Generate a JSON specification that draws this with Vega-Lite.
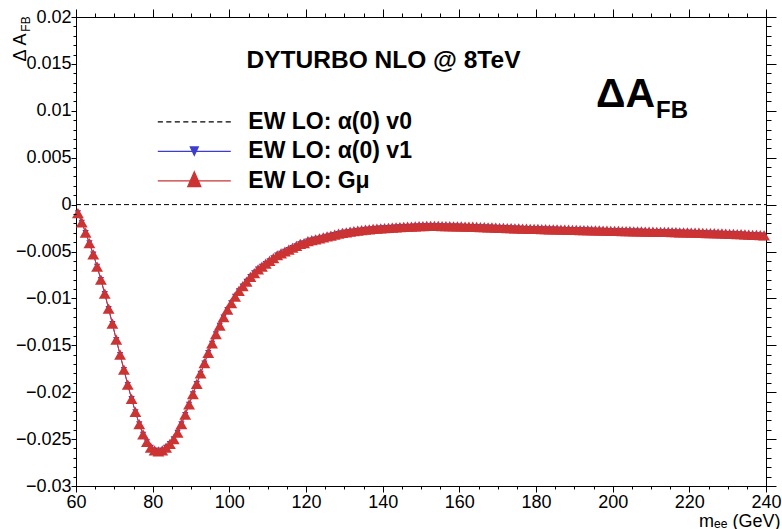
{
  "$schema": "https://vega.github.io/schema/vega-lite/v6.json",
  "width": 690,
  "height": 469,
  "autosize": {"type": "none"},
  "padding": {"left": 76, "top": 17, "right": 16, "bottom": 43},
  "background": "white",
  "config": {
    "view": {"stroke": "black", "strokeWidth": 1},
    "text": {"font": "Liberation Sans"}
  },
  "datasets": {
    "v0": [{"m": 60, "d": 0}, {"m": 240, "d": 0}],
    "series": [{"s": "EW LO: α(0) v0"}, {"s": "EW LO: α(0) v1"}, {"s": "EW LO: Gμ"}],
    "afb": [
      {"m": 60.5, "d": -0.0009}, {"m": 61.5, "d": -0.0019}, {"m": 62.5, "d": -0.0030}, {"m": 63.5, "d": -0.0041},
      {"m": 64.5, "d": -0.0053}, {"m": 65.5, "d": -0.0066}, {"m": 66.5, "d": -0.0080}, {"m": 67.5, "d": -0.0095},
      {"m": 68.5, "d": -0.0111}, {"m": 69.5, "d": -0.0127}, {"m": 70.5, "d": -0.0144}, {"m": 71.5, "d": -0.0160},
      {"m": 72.5, "d": -0.0176}, {"m": 73.5, "d": -0.0192}, {"m": 74.5, "d": -0.0207}, {"m": 75.5, "d": -0.0221},
      {"m": 76.5, "d": -0.0234}, {"m": 77.5, "d": -0.0245}, {"m": 78.5, "d": -0.0253}, {"m": 79.5, "d": -0.0259},
      {"m": 80.5, "d": -0.0262}, {"m": 81.5, "d": -0.0263}, {"m": 82.5, "d": -0.0262}, {"m": 83.5, "d": -0.0259},
      {"m": 84.5, "d": -0.0255}, {"m": 85.5, "d": -0.0250}, {"m": 86.5, "d": -0.0243}, {"m": 87.5, "d": -0.0234},
      {"m": 88.5, "d": -0.0224}, {"m": 89.5, "d": -0.0213}, {"m": 90.5, "d": -0.0202}, {"m": 91.5, "d": -0.0191},
      {"m": 92.5, "d": -0.0180}, {"m": 93.5, "d": -0.0169}, {"m": 94.5, "d": -0.0158}, {"m": 95.5, "d": -0.0148},
      {"m": 96.5, "d": -0.0138}, {"m": 97.5, "d": -0.0129}, {"m": 98.5, "d": -0.0120}, {"m": 99.5, "d": -0.0112},
      {"m": 100.5, "d": -0.0105}, {"m": 101.5, "d": -0.0098}, {"m": 102.5, "d": -0.0092}, {"m": 103.5, "d": -0.0087},
      {"m": 104.5, "d": -0.0082}, {"m": 105.5, "d": -0.0077}, {"m": 106.5, "d": -0.0073}, {"m": 107.5, "d": -0.0069},
      {"m": 108.5, "d": -0.0066}, {"m": 109.5, "d": -0.0063}, {"m": 110.5, "d": -0.0060}, {"m": 111.5, "d": -0.0057},
      {"m": 112.5, "d": -0.0054}, {"m": 113.5, "d": -0.0052}, {"m": 114.5, "d": -0.0050}, {"m": 115.5, "d": -0.0048},
      {"m": 116.5, "d": -0.0046}, {"m": 117.5, "d": -0.0044}, {"m": 118.5, "d": -0.0042}, {"m": 119.5, "d": -0.0041},
      {"m": 120.5, "d": -0.0039}, {"m": 121.5, "d": -0.0038}, {"m": 122.5, "d": -0.0037}, {"m": 123.5, "d": -0.0036},
      {"m": 124.5, "d": -0.0035}, {"m": 125.5, "d": -0.0034}, {"m": 126.5, "d": -0.0033}, {"m": 127.5, "d": -0.0032},
      {"m": 128.5, "d": -0.0031}, {"m": 129.5, "d": -0.00302}, {"m": 130.5, "d": -0.00295}, {"m": 131.5, "d": -0.00289},
      {"m": 132.5, "d": -0.00283}, {"m": 133.5, "d": -0.00278}, {"m": 134.5, "d": -0.00273}, {"m": 135.5, "d": -0.00268},
      {"m": 136.5, "d": -0.00264}, {"m": 137.5, "d": -0.0026}, {"m": 138.5, "d": -0.00256}, {"m": 139.5, "d": -0.00253},
      {"m": 140.5, "d": -0.0025}, {"m": 141.5, "d": -0.00247}, {"m": 142.5, "d": -0.00245}, {"m": 143.5, "d": -0.00242},
      {"m": 144.5, "d": -0.0024}, {"m": 145.5, "d": -0.00238}, {"m": 146.5, "d": -0.00236}, {"m": 147.5, "d": -0.00234},
      {"m": 148.5, "d": -0.00232}, {"m": 149.5, "d": -0.0023}, {"m": 150.5, "d": -0.00229}, {"m": 151.5, "d": -0.00228},
      {"m": 152.5, "d": -0.00228}, {"m": 153.5, "d": -0.00228}, {"m": 154.5, "d": -0.00228}, {"m": 155.5, "d": -0.00229},
      {"m": 156.5, "d": -0.0023}, {"m": 157.5, "d": -0.0023}, {"m": 158.5, "d": -0.00231}, {"m": 159.5, "d": -0.00232},
      {"m": 160.5, "d": -0.00233}, {"m": 161.5, "d": -0.00234}, {"m": 162.5, "d": -0.00235}, {"m": 163.5, "d": -0.00236},
      {"m": 164.5, "d": -0.00238}, {"m": 165.5, "d": -0.00239}, {"m": 166.5, "d": -0.00241}, {"m": 167.5, "d": -0.00242},
      {"m": 168.5, "d": -0.00244}, {"m": 169.5, "d": -0.00245}, {"m": 170.5, "d": -0.00247}, {"m": 171.5, "d": -0.00248},
      {"m": 172.5, "d": -0.0025}, {"m": 173.5, "d": -0.00251}, {"m": 174.5, "d": -0.00253}, {"m": 175.5, "d": -0.00254},
      {"m": 176.5, "d": -0.00255}, {"m": 177.5, "d": -0.00257}, {"m": 178.5, "d": -0.00258}, {"m": 179.5, "d": -0.00259},
      {"m": 180.5, "d": -0.0026}, {"m": 181.5, "d": -0.00261}, {"m": 182.5, "d": -0.00262}, {"m": 183.5, "d": -0.00263},
      {"m": 184.5, "d": -0.00264}, {"m": 185.5, "d": -0.00265}, {"m": 186.5, "d": -0.00266}, {"m": 187.5, "d": -0.00267},
      {"m": 188.5, "d": -0.00268}, {"m": 189.5, "d": -0.00269}, {"m": 190.5, "d": -0.0027}, {"m": 191.5, "d": -0.00271},
      {"m": 192.5, "d": -0.00272}, {"m": 193.5, "d": -0.00273}, {"m": 194.5, "d": -0.00274}, {"m": 195.5, "d": -0.00275},
      {"m": 196.5, "d": -0.00276}, {"m": 197.5, "d": -0.00277}, {"m": 198.5, "d": -0.00278}, {"m": 199.5, "d": -0.00279},
      {"m": 200.5, "d": -0.0028}, {"m": 201.5, "d": -0.00281}, {"m": 202.5, "d": -0.00282}, {"m": 203.5, "d": -0.00283},
      {"m": 204.5, "d": -0.00284}, {"m": 205.5, "d": -0.00285}, {"m": 206.5, "d": -0.00285}, {"m": 207.5, "d": -0.00286},
      {"m": 208.5, "d": -0.00287}, {"m": 209.5, "d": -0.00288}, {"m": 210.5, "d": -0.00289}, {"m": 211.5, "d": -0.0029},
      {"m": 212.5, "d": -0.0029}, {"m": 213.5, "d": -0.00291}, {"m": 214.5, "d": -0.00292}, {"m": 215.5, "d": -0.00293},
      {"m": 216.5, "d": -0.00294}, {"m": 217.5, "d": -0.00295}, {"m": 218.5, "d": -0.00296}, {"m": 219.5, "d": -0.00297},
      {"m": 220.5, "d": -0.00298}, {"m": 221.5, "d": -0.00299}, {"m": 222.5, "d": -0.003}, {"m": 223.5, "d": -0.00301},
      {"m": 224.5, "d": -0.00303}, {"m": 225.5, "d": -0.00304}, {"m": 226.5, "d": -0.00305}, {"m": 227.5, "d": -0.00307},
      {"m": 228.5, "d": -0.00308}, {"m": 229.5, "d": -0.0031}, {"m": 230.5, "d": -0.00311}, {"m": 231.5, "d": -0.00313},
      {"m": 232.5, "d": -0.00314}, {"m": 233.5, "d": -0.00316}, {"m": 234.5, "d": -0.00318}, {"m": 235.5, "d": -0.0032},
      {"m": 236.5, "d": -0.00322}, {"m": 237.5, "d": -0.00324}, {"m": 238.5, "d": -0.00326}, {"m": 239.5, "d": -0.00328}
    ]
  },
  "layer": [
    {
      "data": {"name": "v0"},
      "mark": {"type": "line", "color": "black", "strokeWidth": 1, "strokeDash": [5, 3]},
      "encoding": {
        "x": {"field": "m", "type": "quantitative", "scale": {"domain": [60, 240], "nice": false, "zero": false}, "axis": null},
        "y": {"field": "d", "type": "quantitative", "scale": {"domain": [-0.03, 0.02], "nice": false, "zero": false}, "axis": null}
      }
    },
    {
      "data": {"name": "afb"},
      "mark": {"type": "line", "color": "#3c3cd0", "strokeWidth": 1},
      "encoding": {
        "x": {"field": "m", "type": "quantitative", "axis": {"orient": "top", "values": [60,65,70,75,80,85,90,95,100,105,110,115,120,125,130,135,140,145,150,155,160,165,170,175,180,185,190,195,200,205,210,215,220,225,230,235,240], "labels": false, "title": null, "domain": false, "grid": false, "ticks": true, "tickColor": "black", "tickSize": 4, "zindex": 1}},
        "y": {"field": "d", "type": "quantitative", "axis": {"orient": "right", "values": [-0.03,-0.029,-0.028,-0.027,-0.026,-0.025,-0.024,-0.023,-0.022,-0.021,-0.02,-0.019,-0.018,-0.017,-0.016,-0.015,-0.014,-0.013,-0.012,-0.011,-0.01,-0.009,-0.008,-0.007,-0.006,-0.005,-0.004,-0.003,-0.002,-0.001,0,0.001,0.002,0.003,0.004,0.005,0.006,0.007,0.008,0.009,0.01,0.011,0.012,0.013,0.014,0.015,0.016,0.017,0.018,0.019,0.02], "labels": false, "title": null, "domain": false, "grid": false, "ticks": true, "tickColor": "black", "tickSize": 5, "zindex": 1}}
      }
    },
    {
      "data": {"name": "afb"},
      "mark": {"type": "point", "shape": "triangle-down", "filled": true, "size": 40, "color": "#3c3cd0", "opacity": 1},
      "encoding": {
        "x": {"field": "m", "type": "quantitative", "axis": {"orient": "top", "values": [60,80,100,120,140,160,180,200,220,240], "labels": false, "title": null, "domain": false, "grid": false, "ticks": true, "tickColor": "black", "tickSize": 8, "zindex": 1}},
        "y": {"field": "d", "type": "quantitative", "axis": {"orient": "right", "values": [-0.03,-0.025,-0.02,-0.015,-0.01,-0.005,0,0.005,0.01,0.015,0.02], "labels": false, "title": null, "domain": false, "grid": false, "ticks": true, "tickColor": "black", "tickSize": 10, "zindex": 1}}
      }
    },
    {
      "data": {"name": "afb"},
      "mark": {"type": "line", "color": "#cc3333", "strokeWidth": 1},
      "encoding": {
        "x": {"field": "m", "type": "quantitative", "axis": {"orient": "bottom", "values": [60,65,70,75,80,85,90,95,100,105,110,115,120,125,130,135,140,145,150,155,160,165,170,175,180,185,190,195,200,205,210,215,220,225,230,235,240], "labels": false, "title": null, "domain": false, "grid": false, "ticks": true, "tickColor": "black", "tickSize": 3, "zindex": 1}},
        "y": {"field": "d", "type": "quantitative", "axis": {"orient": "left", "values": [-0.03,-0.029,-0.028,-0.027,-0.026,-0.025,-0.024,-0.023,-0.022,-0.021,-0.02,-0.019,-0.018,-0.017,-0.016,-0.015,-0.014,-0.013,-0.012,-0.011,-0.01,-0.009,-0.008,-0.007,-0.006,-0.005,-0.004,-0.003,-0.002,-0.001,0,0.001,0.002,0.003,0.004,0.005,0.006,0.007,0.008,0.009,0.01,0.011,0.012,0.013,0.014,0.015,0.016,0.017,0.018,0.019,0.02], "labels": false, "title": null, "domain": false, "grid": false, "ticks": true, "tickColor": "black", "tickSize": 3, "zindex": 1}}
      }
    },
    {
      "data": {"name": "afb"},
      "mark": {"type": "point", "shape": "triangle-up", "filled": true, "size": 140, "color": "#cc3333", "opacity": 1},
      "encoding": {
        "x": {"field": "m", "type": "quantitative", "axis": {"orient": "bottom", "values": [60,80,100,120,140,160,180,200,220,240], "format": "d", "domain": false, "grid": false, "ticks": true, "tickColor": "black", "tickSize": 6, "zindex": 1, "labelPadding": 1, "labelFontSize": 18, "labelColor": "black", "labelFont": "Liberation Sans", "labelFlush": false, "labelOverlap": false, "title": "mₑₑ (GeV)", "titleFont": "Liberation Sans", "titleColor": "black", "titleFontSize": 18, "titleFontWeight": "normal", "titleAlign": "right", "titleBaseline": "alphabetic", "titleX": 704, "titleY": 40}},
        "y": {"field": "d", "type": "quantitative", "axis": {"orient": "left", "values": [-0.03,-0.025,-0.02,-0.015,-0.01,-0.005,0,0.005,0.01,0.015,0.02], "format": ".3~f", "domain": false, "grid": false, "ticks": true, "tickColor": "black", "tickSize": 5, "zindex": 1, "labelPadding": 0, "labelFontSize": 18, "labelColor": "black", "labelFont": "Liberation Sans", "labelFlush": false, "labelOverlap": false, "title": "Δ A", "titleFont": "Liberation Sans", "titleColor": "black", "titleFontSize": 18, "titleFontWeight": "normal", "titleAngle": 270, "titleAlign": "right", "titleBaseline": "alphabetic", "titleX": -51, "titleY": 16}}
      }
    },
    {
      "data": {"name": "series"},
      "transform": [{"filter": "false"}],
      "mark": {"type": "point", "filled": true, "opacity": 1},
      "encoding": {
        "shape": {"field": "s", "type": "nominal", "scale": {"domain": ["EW LO: α(0) v0", "EW LO: α(0) v1", "EW LO: Gμ"], "range": ["M-3,0H-2.58M-2.3025,0H-1.8825M-1.605,0H-1.185M-0.9075,0H-0.4875M-0.21,0H0.21M0.4875,0H0.9075M1.185,0H1.605M1.8825,0H2.3025M2.58,0H3", "M-3,0H3M-0.33,-0.36L0.33,-0.36L0,0.33Z", "M-3,0H3M0,-0.75L0.54,0.48L-0.54,0.48Z"]}, "legend": {"title": null, "orient": "none", "legendX": 105.3, "legendY": 91.8, "symbolSize": 592, "symbolStrokeWidth": 1.2, "labelFont": "Liberation Sans", "labelFontSize": 23, "labelFontWeight": "bold", "labelColor": "black", "labelOffset": 41, "labelLimit": 400, "rowPadding": 4.5, "padding": 0}},
        "fill": {"field": "s", "type": "nominal", "scale": {"domain": ["EW LO: α(0) v0", "EW LO: α(0) v1", "EW LO: Gμ"], "range": ["black", "#3c3cd0", "#cc3333"]}},
        "stroke": {"field": "s", "type": "nominal", "scale": {"domain": ["EW LO: α(0) v0", "EW LO: α(0) v1", "EW LO: Gμ"], "range": ["black", "#3c3cd0", "#cc3333"]}}
      }
    },
    {
      "data": {"values": [{"t": "DYTURBO NLO @ 8TeV"}]},
      "mark": {"type": "text", "align": "left", "baseline": "alphabetic", "fontSize": 24.5, "fontWeight": "bold", "color": "black"},
      "encoding": {
        "x": {"datum": 104.5, "type": "quantitative", "axis": null},
        "y": {"datum": 0.01457, "type": "quantitative", "axis": null},
        "text": {"field": "t"}
      }
    },
    {
      "data": {"values": [{"t": "ΔA"}]},
      "mark": {"type": "text", "align": "left", "baseline": "alphabetic", "fontSize": 41, "fontWeight": "bold", "color": "black"},
      "encoding": {
        "x": {"datum": 195.65, "type": "quantitative", "axis": null},
        "y": {"datum": 0.01037, "type": "quantitative", "axis": null},
        "text": {"field": "t"}
      }
    },
    {
      "data": {"values": [{"t": "FB"}]},
      "mark": {"type": "text", "align": "left", "baseline": "alphabetic", "fontSize": 24, "fontWeight": "bold", "color": "black"},
      "encoding": {
        "x": {"datum": 211.3, "type": "quantitative", "axis": null},
        "y": {"datum": 0.00924, "type": "quantitative", "axis": null},
        "text": {"field": "t"}
      }
    },
    {
      "data": {"values": [{"t": "FB"}]},
      "mark": {"type": "text", "align": "left", "baseline": "alphabetic", "angle": 270, "fontSize": 12, "color": "black"},
      "encoding": {
        "x": {"datum": 47.87, "type": "quantitative", "axis": null},
        "y": {"datum": 0.01844, "type": "quantitative", "axis": null},
        "text": {"field": "t"}
      }
    }
  ],
  "resolve": {"axis": {"x": "independent", "y": "independent"}}
}
